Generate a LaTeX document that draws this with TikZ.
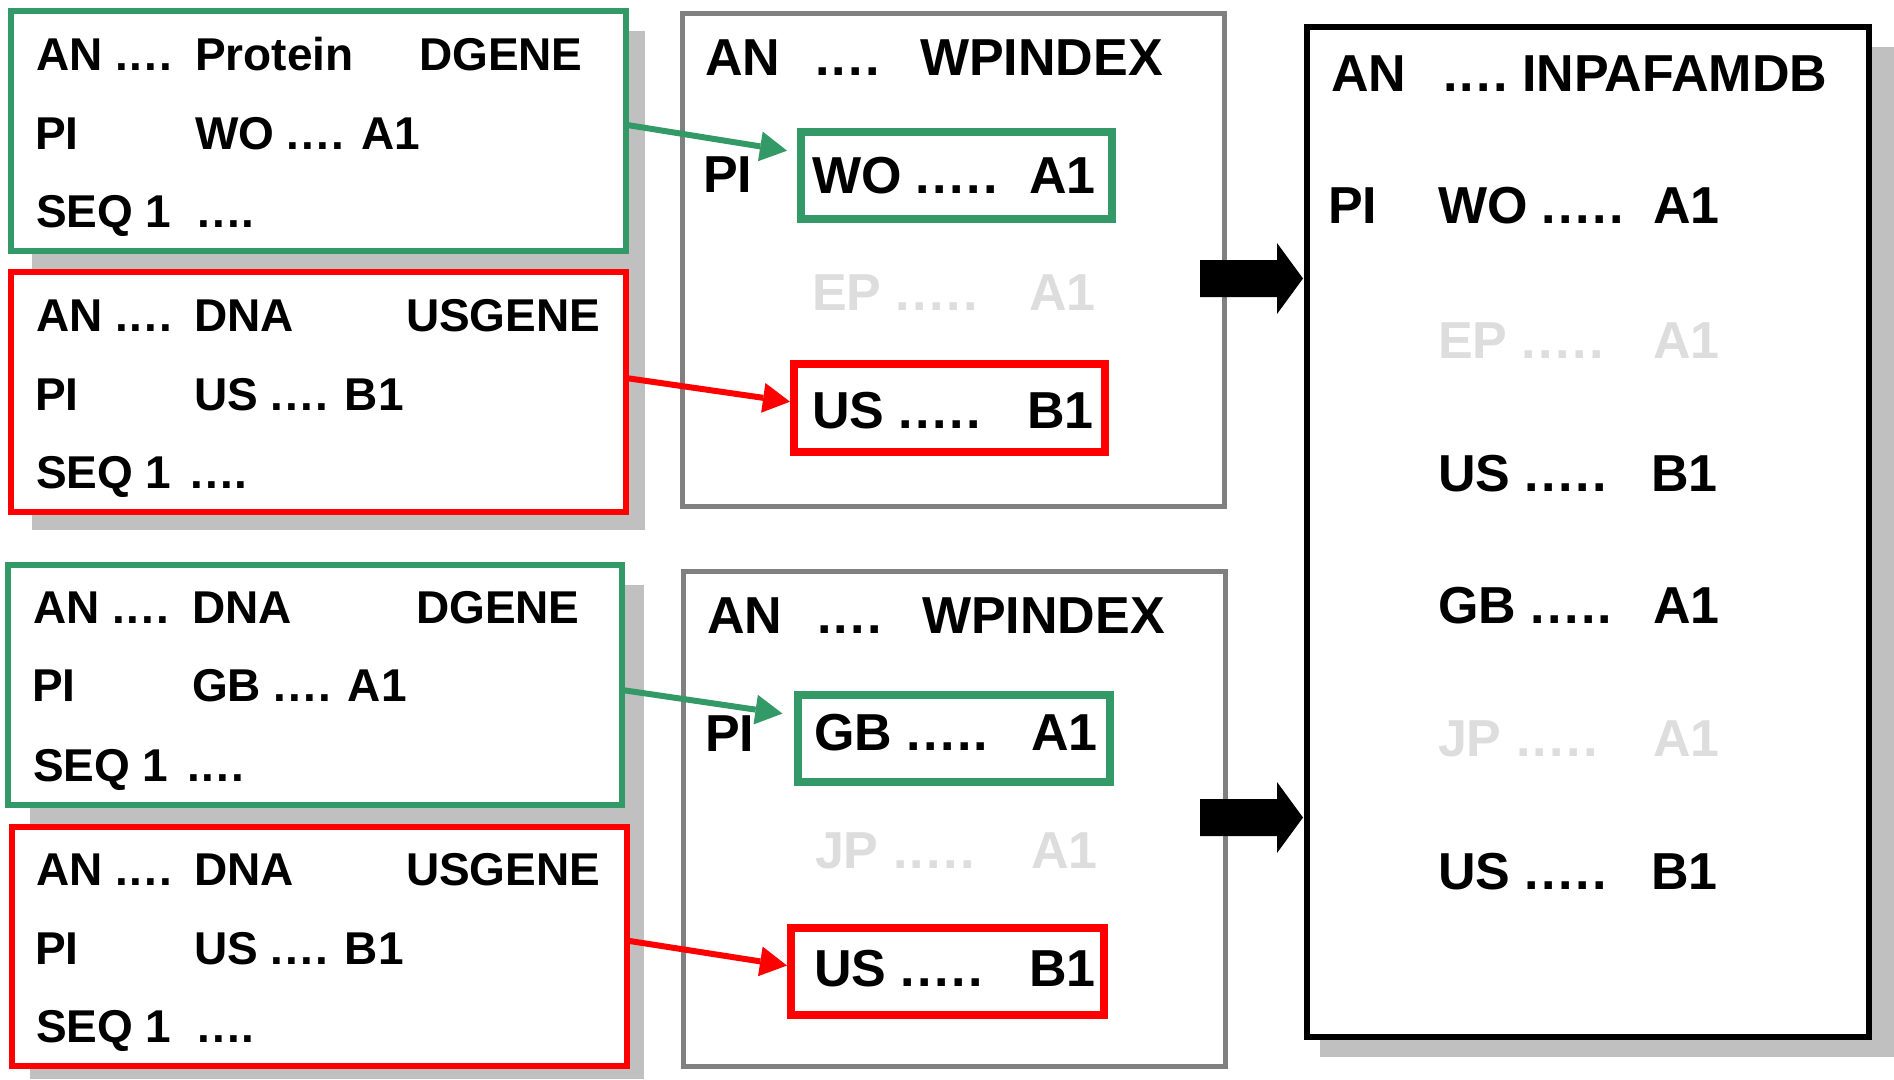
\documentclass[tikz,border=0pt]{standalone}
\usepackage{fontspec}
\setmainfont{Liberation Sans}
\usetikzlibrary{arrows.meta,calc,fit}
\definecolor{grn}{RGB}{51,153,102}
\definecolor{shd}{RGB}{192,192,192}
\definecolor{brd}{RGB}{128,128,128}
\definecolor{fade}{RGB}{221,221,221}
\newcommand\mfive{.\kern2.4pt.\kern2.4pt.\kern2.4pt.\kern2.4pt.}
\newcommand\mfour{.\kern2.4pt.\kern2.4pt.\kern2.4pt.}
\newcommand\lfour{.\kern2pt.\kern2pt.\kern2pt.}
\begin{document}
\begin{tikzpicture}[x=1pt,y=-1pt,
  frame/.style={inner sep=0pt, outer sep=0pt, fill=white},
  gbox/.style={frame, draw=grn, line width=6pt},
  rbox/.style={frame, draw=red, line width=6pt},
  mbox/.style={frame, draw=brd, line width=5pt},
  kbox/.style={frame, draw=black, line width=6pt},
  igbox/.style={frame, draw=grn, line width=8pt, fill=none},
  irbox/.style={frame, draw=red, line width=8pt, fill=none},
  lt/.style={anchor=base west, inner sep=0pt, outer sep=0pt, font=\fontsize{46}{50}\selectfont\bfseries},
  mt/.style={anchor=base west, inner sep=0pt, outer sep=0pt, font=\fontsize{52}{56}\selectfont\bfseries},
  ft/.style={mt, text=fade},
  garrow/.style={draw=grn, line width=6pt, -{Triangle[length=27pt,width=30pt,line width=0pt]}},
  rarrow/.style={draw=red, line width=6pt, -{Triangle[length=27pt,width=30pt,line width=0pt]}},
]
\useasboundingbox (0,0) rectangle (1894,1079);
\fill[white] (0,0) rectangle (1894,1079);
% shadows
\fill[shd] (32,31) rectangle (645,530);
\fill[shd] (30,585) rectangle (644,1079);
\fill[shd] (1320,46.5) rectangle (1894,1057);
% boxes
\node[gbox, fit={(11,10.6) (626,251)}] (g1) {};
\node[rbox, fit={(11,272) (626,512)}] (r1) {};
\node[gbox, fit={(8.4,565) (622,805)}] (g2) {};
\node[rbox, fit={(12,827) (626.5,1066)}] (r2) {};
\node[mbox, fit={(682,13.5) (1224,506.5)}] (m1) {};
\node[mbox, fit={(683.5,571.5) (1225.5,1066.5)}] (m2) {};
\node[kbox, fit={(1306.5,27) (1869,1037)}] (res) {};
\node[igbox, fit={(801,131.7) (1112,218.7)}] (ig1) {};
\node[irbox, fit={(794,364) (1105,452)}] (ir1) {};
\node[igbox, fit={(798,694.5) (1110,782.4)}] (ig2) {};
\node[irbox, fit={(791.4,927.6) (1103.5,1015.3)}] (ir2) {};
% connectors
\draw[garrow] ([yshift=6pt]g1.east) -- ([xshift=-14pt,yshift=24.5pt]ig1.west);
\draw[rarrow] ([yshift=14pt]r1.east) -- ([xshift=-4pt,yshift=6.3pt]ir1.west);
\draw[garrow] ([yshift=-5pt]g2.east) -- ([xshift=-15.6pt,yshift=24.9pt]ig2.west);
\draw[rarrow] ([yshift=6pt]r2.east) -- ([xshift=-4.4pt,yshift=5.9pt]ir2.west);
% fat arrows
\coordinate (fa1) at (1200,278.5);
\coordinate (fa2) at (1200,817.5);
\fill (fa1) ++(0,-18.5) -- ++(77,0) -- ++(0,-17) -- ++(26,35.5) -- ++(-26,35.5) -- ++(0,-17) -- ++(-77,0) -- cycle;
\fill (fa2) ++(0,-18.5) -- ++(77,0) -- ++(0,-17) -- ++(26,35.5) -- ++(-26,35.5) -- ++(0,-17) -- ++(-77,0) -- cycle;
% left box 1
\node[lt] (g1a) at (36,70) {AN \lfour};
\node[lt] (g1b) at (195,70) {Protein};
\node[lt] (g1c) at (419,70) {DGENE};
\node[lt] (g1d) at (35,149) {PI};
\node[lt] (g1e) at (195,149) {WO \lfour{} A1};
\node[lt] (g1f) at (36,227) {SEQ 1\hspace{26pt}\lfour};
% left box 2
\node[lt] (r1a) at (36,331) {AN \lfour};
\node[lt] (r1b) at (194,331) {DNA};
\node[lt] (r1c) at (406,331) {USGENE};
\node[lt] (r1d) at (35,410) {PI};
\node[lt] (r1e) at (194,410) {US \lfour{} B1};
\node[lt] (r1f) at (36,488) {SEQ 1\hspace{19pt}\lfour};
% left box 3
\node[lt] (g2a) at (33,623.5) {AN \lfour};
\node[lt] (g2b) at (192,623.5) {DNA};
\node[lt] (g2c) at (416,623.5) {DGENE};
\node[lt] (g2d) at (32,701.6) {PI};
\node[lt] (g2e) at (192,701.6) {GB \lfour{} A1};
\node[lt] (g2f) at (33,781.7) {SEQ 1\hspace{18.5pt}\lfour};
% left box 4
\node[lt] (r2a) at (36,885.5) {AN \lfour};
\node[lt] (r2b) at (194,885.5) {DNA};
\node[lt] (r2c) at (406,885.5) {USGENE};
\node[lt] (r2d) at (35,964.5) {PI};
\node[lt] (r2e) at (194,964.5) {US \lfour{} B1};
\node[lt] (r2f) at (36,1042.6) {SEQ 1\hspace{26pt}\lfour};
% middle box 1
\node[mt] (m1a) at (705,75) {AN};
\node[mt] (m1b) at (815,75) {\mfour};
\node[mt] (m1c) at (920,75) {WPINDEX};
\node[mt] (m1d) at (703,192) {PI};
\node[mt] (m1e) at (812,193) {WO \mfive};
\node[mt] (m1f) at (1029,193) {A1};
\node[ft] (m1g) at (812,310) {EP \mfive};
\node[ft] (m1h) at (1029,310) {A1};
\node[mt] (m1i) at (812,428) {US \mfive};
\node[mt] (m1j) at (1027,428) {B1};
% middle box 2
\node[mt] (m2a) at (707,633.5) {AN};
\node[mt] (m2b) at (817,633.5) {\mfour};
\node[mt] (m2c) at (922,633.5) {WPINDEX};
\node[mt] (m2d) at (705,751) {PI};
\node[mt] (m2e) at (814,750) {GB \mfive};
\node[mt] (m2f) at (1031,750) {A1};
\node[ft] (m2g) at (815,868) {JP \mfive};
\node[ft] (m2h) at (1031,868) {A1};
\node[mt] (m2i) at (814,986) {US \mfive};
\node[mt] (m2j) at (1029,986) {B1};
% result box
\node[mt] (ra) at (1331,91) {AN};
\node[mt] (rb) at (1443,91) {\mfour};
\node[mt] (rc) at (1522,91) {INPAFAMDB};
\node[mt] (rd) at (1328,223) {PI};
\node[mt] (re) at (1438,223) {WO \mfive};
\node[mt] (rf) at (1653,223) {A1};
\node[ft] (rg) at (1438,358) {EP \mfive};
\node[ft] (rh) at (1653,358) {A1};
\node[mt] (ri) at (1438,491) {US \mfive};
\node[mt] (rj) at (1651,491) {B1};
\node[mt] (rk) at (1438,623.5) {GB \mfive};
\node[mt] (rl) at (1653,623.5) {A1};
\node[ft] (rm) at (1438,756.6) {JP \mfive};
\node[ft] (rn) at (1653,756.6) {A1};
\node[mt] (ro) at (1438,889) {US \mfive};
\node[mt] (rp) at (1651,889) {B1};
\end{tikzpicture}
\end{document}
